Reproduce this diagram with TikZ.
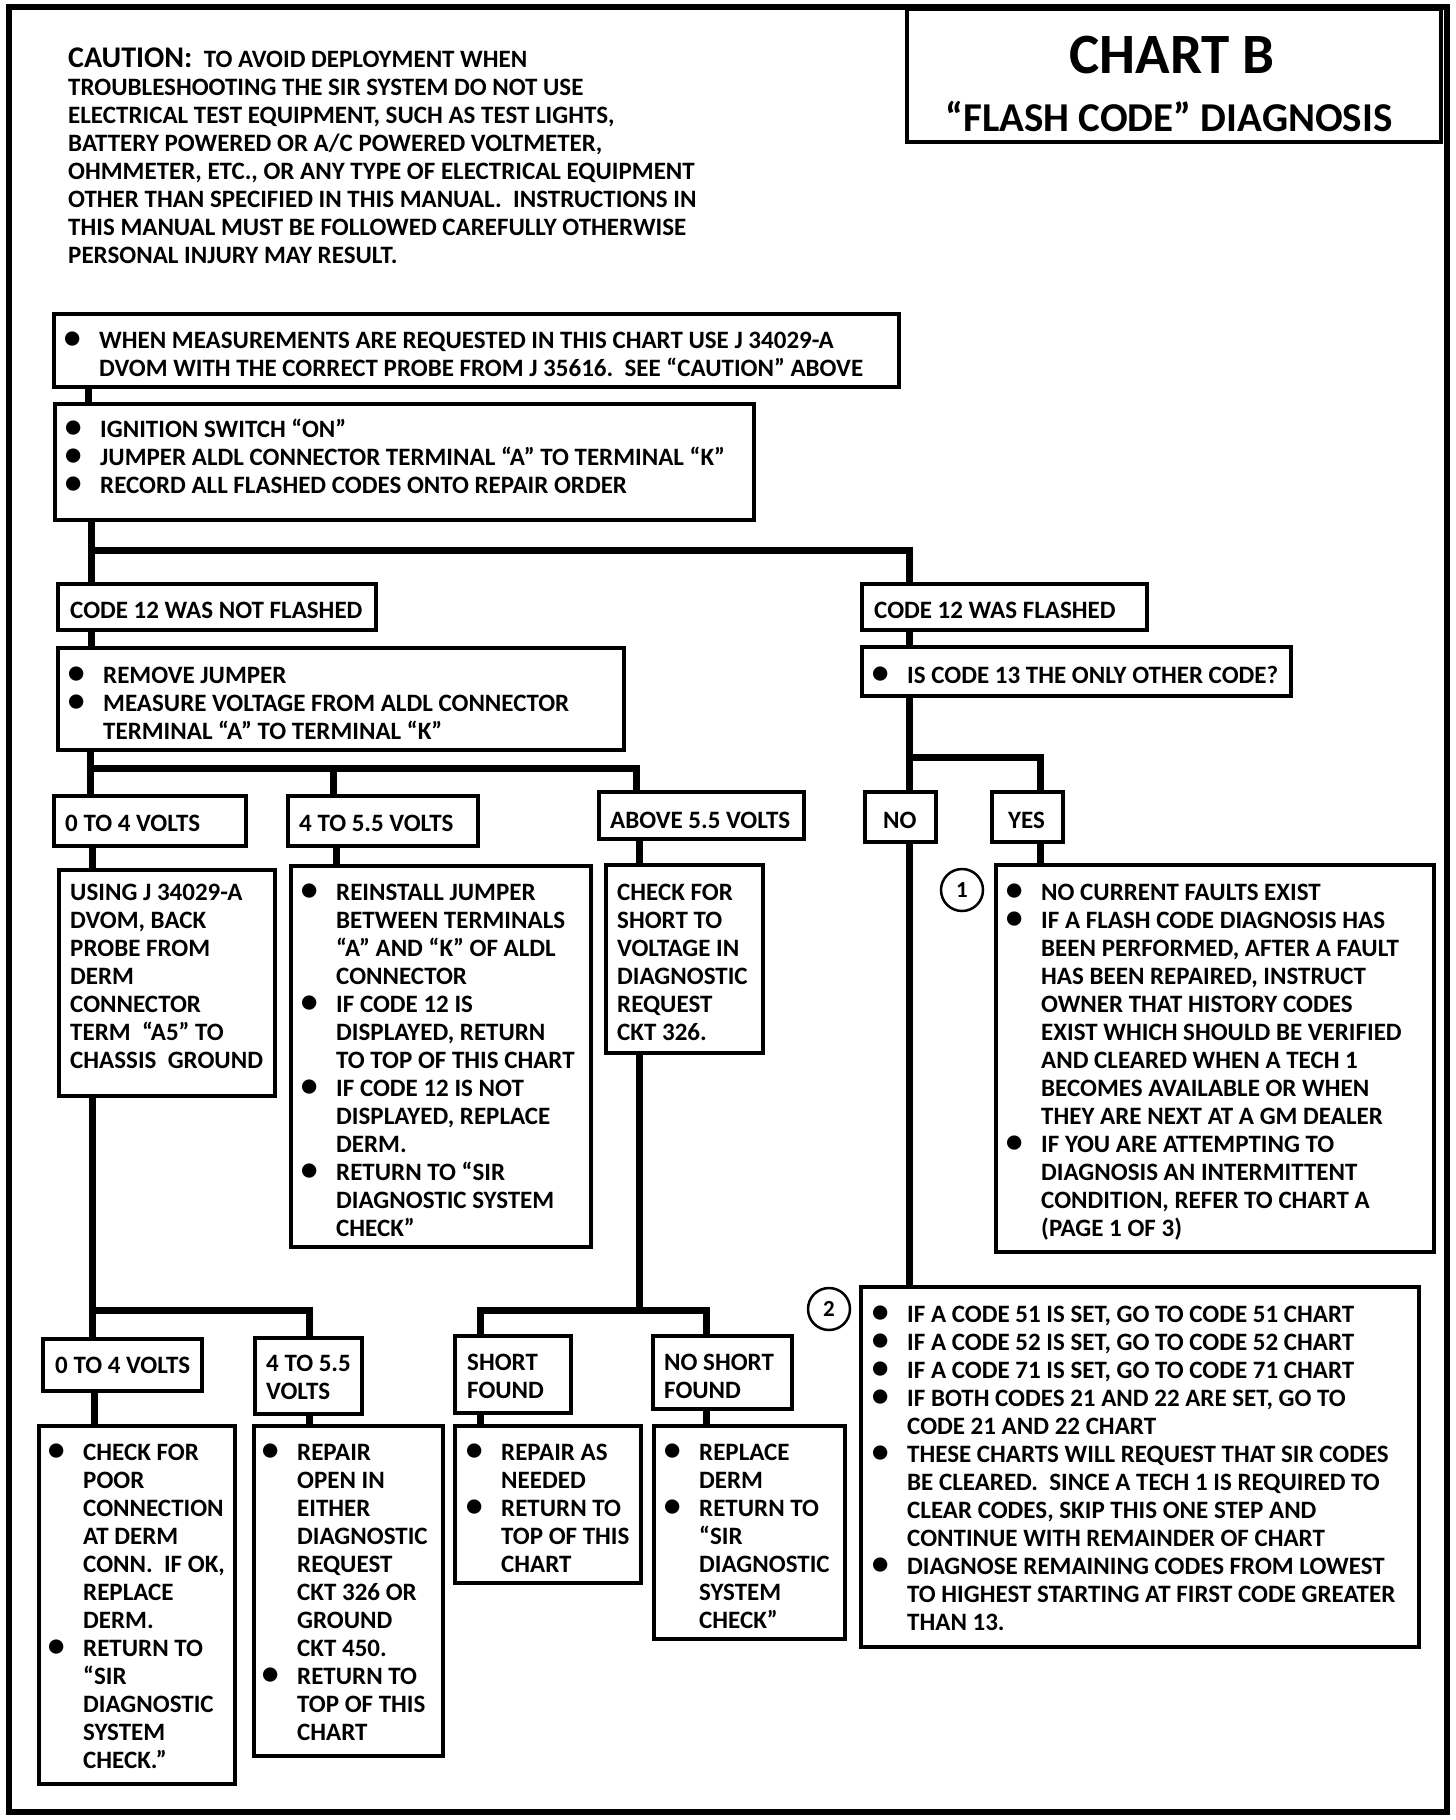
\documentclass[tikz,border=0pt]{standalone}
\usepackage{fontspec}
\setmainfont{Carlito}
\usepackage{graphicx}
\newcommand\mybul{\llap{\makebox[18pt][c]{\scalebox{1.35}{•}}\hspace{18pt}}}
\newcommand\mybox[8]{%
  \node[bx, minimum width={(#4-#2)*1pt}, minimum height={(#5-#3)*1pt}] (#1) at (#2,#3) {};
  \node[txt] (#1t) at (#2+#6,#7-20) {\rule{0pt}{20pt}#8};}
\begin{document}
\begin{tikzpicture}[x=1pt,y=-1pt,
  bx/.style={draw, line width=3.5pt, inner sep=0pt, outer sep=0pt, anchor=north west},
  txt/.style={anchor=north west, align=left, inner sep=0pt, font=\bfseries\fontsize{25}{28}\selectfont},
  conn/.style={line width=7pt},
  num/.style={circle, draw, line width=2.5pt, minimum size=42pt, inner sep=0pt, font=\bfseries\fontsize{23}{24}\selectfont}]
\useasboundingbox (0,0) rectangle (1456,1820);
\draw[line width=6pt] (9,7) rectangle (1447,1812);
% title
\node[bx, minimum width=534pt, minimum height=133pt] (title) at (907,9) {};
\node[anchor=base, inner sep=0pt, font=\bfseries\fontsize{57}{60}\selectfont] (titleA) at (1172,73) {CHART B};
\node[anchor=base, inner sep=0pt, font=\bfseries\fontsize{41}{44}\selectfont] (titleB) at (1169,131) {“FLASH CODE” DIAGNOSIS};
% caution
\node[txt] (caution) at (68,67-25) {\rule{0pt}{25pt}{\fontsize{30}{28}\selectfont CAUTION:}\ \ TO AVOID DEPLOYMENT WHEN\\
TROUBLESHOOTING THE SIR SYSTEM DO NOT USE\\
ELECTRICAL TEST EQUIPMENT, SUCH AS TEST LIGHTS,\\
BATTERY POWERED OR A/C POWERED VOLTMETER,\\
OHMMETER, ETC., OR ANY TYPE OF ELECTRICAL EQUIPMENT\\
OTHER THAN SPECIFIED IN THIS MANUAL.\ \ INSTRUCTIONS IN\\
THIS MANUAL MUST BE FOLLOWED CAREFULLY OTHERWISE\\
PERSONAL INJURY MAY RESULT.};
% boxes
\mybox{A}{54}{314}{899}{387}{45}{348}{\mybul WHEN MEASUREMENTS ARE REQUESTED IN THIS CHART USE J 34029-A\\DVOM WITH THE CORRECT PROBE FROM J 35616.\ \ SEE “CAUTION” ABOVE}
\mybox{B}{55}{404}{754}{520}{45}{437}{\mybul IGNITION SWITCH “ON”\\\mybul JUMPER ALDL CONNECTOR TERMINAL “A” TO TERMINAL “K”\\\mybul RECORD ALL FLASHED CODES ONTO REPAIR ORDER}
\mybox{NF}{58}{584}{376}{630}{12}{618}{CODE 12 WAS NOT FLASHED}
\mybox{F}{862}{584}{1147}{630}{12}{618}{CODE 12 WAS FLASHED}
\mybox{RJ}{58}{648}{624}{750}{45}{683}{\mybul REMOVE JUMPER\\\mybul MEASURE VOLTAGE FROM ALDL CONNECTOR\\TERMINAL “A” TO TERMINAL “K”}
\mybox{IC}{862}{647}{1291}{696}{45}{683}{\mybul IS CODE 13 THE ONLY OTHER CODE?}
\mybox{VAa}{54}{796}{246}{846}{11}{831}{0 TO 4 VOLTS}
\mybox{VBa}{288}{796}{478}{846}{11}{831}{4 TO 5.5 VOLTS}
\mybox{AB}{599}{792}{804}{839}{11}{828}{ABOVE 5.5 VOLTS}
\mybox{NO}{865}{792}{936}{842}{18}{828}{NO}
\mybox{YES}{992}{792}{1063}{842}{16}{828}{YES}
\mybox{US}{59}{870}{275}{1096}{11}{900}{USING J 34029-A\\DVOM, BACK\\PROBE FROM\\DERM\\CONNECTOR\\TERM\ \ “A5” TO\\CHASSIS\ \ GROUND}
\mybox{RI}{291}{866}{591}{1247}{45}{900}{\mybul REINSTALL JUMPER\\BETWEEN TERMINALS\\“A” AND “K” OF ALDL\\CONNECTOR\\\mybul IF CODE 12 IS\\DISPLAYED, RETURN\\TO TOP OF THIS CHART\\\mybul IF CODE 12 IS NOT\\DISPLAYED, REPLACE\\DERM.\\\mybul RETURN TO “SIR\\DIAGNOSTIC SYSTEM\\CHECK”}
\mybox{CS}{606}{865}{763}{1053}{11}{900}{CHECK FOR\\SHORT TO\\VOLTAGE IN\\DIAGNOSTIC\\REQUEST\\CKT 326.}
\mybox{BA}{996}{865}{1434}{1252}{45}{900}{\mybul NO CURRENT FAULTS EXIST\\\mybul IF A FLASH CODE DIAGNOSIS HAS\\BEEN PERFORMED, AFTER A FAULT\\HAS BEEN REPAIRED, INSTRUCT\\OWNER THAT HISTORY CODES\\EXIST WHICH SHOULD BE VERIFIED\\AND CLEARED WHEN A TECH 1\\BECOMES AVAILABLE OR WHEN\\THEY ARE NEXT AT A GM DEALER\\\mybul IF YOU ARE ATTEMPTING TO\\DIAGNOSIS AN INTERMITTENT\\CONDITION, REFER TO CHART A\\(PAGE 1 OF 3)}
\mybox{BB}{861}{1287}{1419}{1647}{46}{1322}{\mybul IF A CODE 51 IS SET, GO TO CODE 51 CHART\\\mybul IF A CODE 52 IS SET, GO TO CODE 52 CHART\\\mybul IF A CODE 71 IS SET, GO TO CODE 71 CHART\\\mybul IF BOTH CODES 21 AND 22 ARE SET, GO TO\\CODE 21 AND 22 CHART\\\mybul THESE CHARTS WILL REQUEST THAT SIR CODES\\BE CLEARED.\ \ SINCE A TECH 1 IS REQUIRED TO\\CLEAR CODES, SKIP THIS ONE STEP AND\\CONTINUE WITH REMAINDER OF CHART\\\mybul DIAGNOSE REMAINING CODES FROM LOWEST\\TO HIGHEST STARTING AT FIRST CODE GREATER\\THAN 13.}
\mybox{VAb}{43}{1339}{202}{1391}{12}{1373}{0 TO 4 VOLTS}
\mybox{VBb}{255}{1338}{362}{1414}{11}{1371}{4 TO 5.5\\VOLTS}
\mybox{SF}{455}{1336}{571}{1413}{12}{1370}{SHORT\\FOUND}
\mybox{NSF}{653}{1336}{792}{1409}{11}{1370}{NO SHORT\\FOUND}
\mybox{CP}{39}{1426}{235}{1784}{44}{1460}{\mybul CHECK FOR\\POOR\\CONNECTION\\AT DERM\\CONN.\ \ IF OK,\\REPLACE\\DERM.\\\mybul RETURN TO\\“SIR\\DIAGNOSTIC\\SYSTEM\\CHECK.”}
\mybox{RO}{254}{1426}{443}{1756}{43}{1460}{\mybul REPAIR\\OPEN IN\\EITHER\\DIAGNOSTIC\\REQUEST\\CKT 326 OR\\GROUND\\CKT 450.\\\mybul RETURN TO\\TOP OF THIS\\CHART}
\mybox{RA}{455}{1426}{641}{1583}{46}{1460}{\mybul REPAIR AS\\NEEDED\\\mybul RETURN TO\\TOP OF THIS\\CHART}
\mybox{RD}{654}{1426}{845}{1639}{45}{1460}{\mybul REPLACE\\DERM\\\mybul RETURN TO\\“SIR\\DIAGNOSTIC\\SYSTEM\\CHECK”}
% numbered circles
\node[num] (c1) at (962,890) {1};
\node[num] (c2) at (829,1309) {2};
% connectors
\coordinate (j0) at (88,0);
\draw[conn] (A.south -| j0) -- (B.north -| j0);
\coordinate (j1) at (91,550); \coordinate (j2) at (909,550);
\draw[conn] (B.south -| j1) -- (j1) -- (j2) -- (F.north -| j2);
\draw[conn] (j1) -- (NF.north -| j1);
\draw[conn] (NF.south -| j1) -- (RJ.north -| j1);
\draw[conn] (F.south -| j2) -- (IC.north -| j2);
\coordinate (j3) at (90,768); \coordinate (j4) at (333,768); \coordinate (j5) at (636,768);
\draw[conn] (RJ.south -| j3) -- (j3) -- (j5) -- (AB.north -| j5);
\draw[conn] (j3) -- (VAa.north -| j3);
\draw[conn] (j4) -- (VBa.north -| j4);
\coordinate (j6) at (909,757); \coordinate (j7) at (1040,757);
\draw[conn] (IC.south -| j6) -- (NO.north -| j6);
\draw[conn] (j6) -- (j7) -- (YES.north -| j7);
\draw[conn] (NO.south -| j6) -- (BB.north -| j6);
\draw[conn] (YES.south -| j7) -- (BA.north -| j7);
\coordinate (j8) at (92,0); \coordinate (j9) at (336,0); \coordinate (j10) at (639,0);
\draw[conn] (VAa.south -| j8) -- (US.north -| j8);
\draw[conn] (VBa.south -| j9) -- (RI.north -| j9);
\draw[conn] (AB.south -| j10) -- (CS.north -| j10);
\coordinate (j11) at (92,1310); \coordinate (j12) at (309,1310);
\draw[conn] (US.south -| j11) -- (j11) -- (j12) -- (VBb.north -| j12);
\draw[conn] (j11) -- (VAb.north -| j11);
\coordinate (j13) at (639,1310); \coordinate (j14) at (480,1310); \coordinate (j15) at (706,1310);
\draw[conn] (CS.south -| j13) -- (j13);
\draw[conn] (SF.north -| j14) -- (j14) -- (j15) -- (NSF.north -| j15);
\coordinate (j16) at (94,0);
\draw[conn] (VAb.south -| j16) -- (CP.north -| j16);
\draw[conn] (VBb.south -| j12) -- (RO.north -| j12);
\draw[conn] (SF.south -| j14) -- (RA.north -| j14);
\draw[conn] (NSF.south -| j15) -- (RD.north -| j15);
\end{tikzpicture}
\end{document}
